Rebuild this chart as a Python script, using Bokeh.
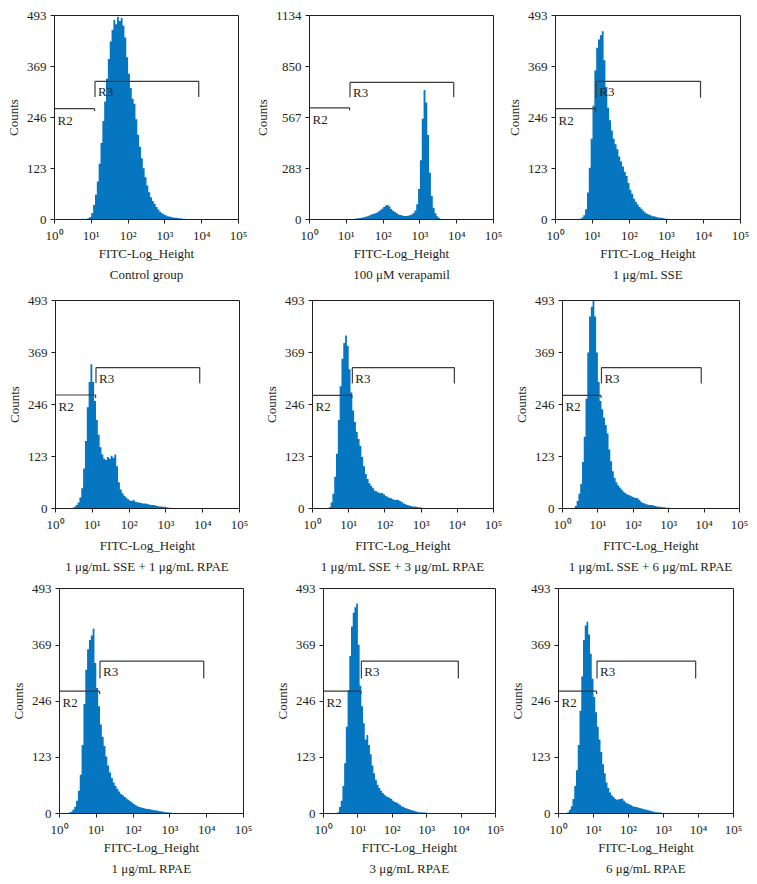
from bokeh.plotting import figure
from bokeh.layouts import column, row
from bokeh.models import FixedTicker, Title, Range1d, ColumnDataSource
from bokeh.embed import file_html
from bokeh.resources import INLINE
from bokeh.core.properties import value

# ---------------- data ----------------
BIN_W = 0.05  # width of one channel bin, in decades of FITC-Log_Height

X_TICKS = [1, 10, 100, 1000, 10000, 100000]
X_TICK_LABELS = ["10\u2070", "10\u00b9", "10\u00b2", "10\u00b3", "10\u2074", "10\u2075"]
Y_TICKS_STD = [0, 123, 246, 369, 493]
Y_TICKS_VER = [0, 283, 567, 850, 1134]

SUBTITLES = [
    "Control group", "100 \u03bcM verapamil", "1 \u03bcg/mL SSE",
    "1 \u03bcg/mL SSE + 1 \u03bcg/mL RPAE", "1 \u03bcg/mL SSE + 3 \u03bcg/mL RPAE",
    "1 \u03bcg/mL SSE + 6 \u03bcg/mL RPAE",
    "1 \u03bcg/mL RPAE", "3 \u03bcg/mL RPAE", "6 \u03bcg/mL RPAE",
]

# log10 of the left edge of the first bin of each histogram
HIST_START = [0.20, 1.10, 0.65, 0.45, 0.45, 0.30, 0.25, 0.40, 0.25]

control = [1, 0, 1, 1, 0, 1, 1, 1, 0, 1, 1, 2, 1, 2, 3, 6,
           16, 35, 60, 92, 135, 185, 238, 285, 340, 388, 430, 458, 482, 472, 490, 480, 487, 468,
           440, 392, 352, 318, 292, 280, 242, 205, 176, 148, 124, 102, 82, 66, 54, 45, 38, 30,
           24, 19, 15, 12, 10, 8, 7, 6, 5, 4, 4, 3, 3, 2, 2, 1, 1]
verapamil = [2, 3, 4, 5, 7, 8, 10, 12, 15, 18, 22, 26, 30, 34, 38, 45, 52, 60, 70, 78,
             80, 72, 58, 48, 42, 35, 28, 25, 22, 20, 20, 21, 24, 28, 35, 50, 85, 170, 330, 560,
             720, 650, 470, 260, 130, 65, 35, 18, 8, 3]
sse1 = [2, 5, 10, 25, 65, 125, 195, 275, 360, 415, 435, 445, 455, 385, 320, 270, 240, 215, 195, 182,
        170, 152, 140, 128, 115, 105, 88, 72, 62, 50, 43, 36, 30, 26, 21, 17, 14, 12, 10, 8,
        8, 6, 5, 4, 4, 3, 2, 2]
sse1_rpae1 = [2, 4, 8, 14, 26, 48, 95, 160, 240, 300, 342, 300, 255, 210, 175, 145, 128, 118, 115, 122,
              118, 125, 120, 128, 100, 62, 45, 36, 30, 26, 22, 19, 18, 20, 16, 15, 14, 13, 12, 12,
              11, 10, 9, 8, 8, 7, 6, 5, 5, 4, 4, 3, 2, 2, 1]
sse1_rpae3 = [3, 14, 35, 75, 130, 210, 290, 355, 392, 410, 385, 330, 275, 232, 205, 182, 165, 148, 122, 100,
              82, 70, 60, 54, 48, 42, 40, 38, 36, 37, 34, 30, 28, 25, 24, 22, 20, 21, 20, 18,
              15, 12, 10, 8, 7, 6, 5, 5, 4, 3, 3, 2, 1]
sse1_rpae6 = [2, 6, 18, 35, 58, 110, 170, 260, 370, 455, 478, 493, 455, 370, 300, 255, 235, 215, 198, 178,
              140, 112, 88, 72, 62, 55, 50, 45, 40, 37, 34, 32, 30, 28, 26, 25, 24, 20, 16, 13,
              12, 10, 9, 8, 8, 7, 6, 5, 4, 4, 3, 3, 2, 2, 2, 1, 1]
rpae1 = [2, 4, 8, 15, 28, 50, 85, 150, 240, 315, 360, 380, 390, 405, 330, 275, 235, 195, 168, 148,
         125, 105, 90, 78, 68, 60, 54, 48, 43, 40, 36, 33, 30, 27, 24, 21, 18, 16, 14, 13,
         12, 11, 10, 10, 9, 8, 7, 7, 6, 5, 5, 4, 3, 3, 2, 2, 1, 1]
rpae3 = [3, 14, 28, 60, 110, 190, 270, 345, 410, 440, 452, 460, 370, 280, 235, 198, 162, 172, 150, 130,
         105, 88, 74, 63, 56, 50, 45, 41, 38, 36, 34, 32, 28, 25, 24, 22, 19, 16, 14, 12,
         11, 10, 8, 7, 6, 5, 4, 3, 3, 2, 2, 2, 1, 1]
rpae6 = [3, 8, 16, 32, 60, 95, 150, 225, 300, 380, 412, 420, 392, 350, 295, 255, 222, 190, 162, 135,
         108, 88, 68, 56, 46, 40, 36, 32, 30, 31, 32, 33, 28, 24, 22, 20, 18, 16, 15, 14,
         13, 12, 11, 10, 9, 8, 7, 6, 5, 4, 3, 3, 2, 2, 1]

HISTS = [control, verapamil, sse1, sse1_rpae1, sse1_rpae3, sse1_rpae6, rpae1, rpae3, rpae6]
Y_MAX = [493, 1134, 493, 493, 493, 493, 493, 493, 493]

# gates (FITC values) and their drawing heights (counts)
R2_X = [1.0, 12.3]
R3_X = [12.6, 8300.0]
R2_Y = [268, 621, 268, 269, 268, 268, 268, 268, 268]
R2_TICK = [262, 606, 260, 262, 262, 262, 262, 262, 262]
R3_Y = [334, 762, 334, 334, 334, 334, 334, 334, 334]
R3_TICK = [296, 680, 294, 297, 296, 296, 296, 296, 296]

# ---------------- layout geometry (page pixels) ----------------
# fig_x0, fig_x1, frame_left, frame_right, frame_top, frame_bottom
GEOM = [
    (0, 251, 54, 238, 12, 219),
    (251, 503, 305, 493, 14, 220),
    (503, 752, 554, 740, 15, 221),
    (0, 255, 55, 239, 297, 508),
    (255, 505, 312, 493, 299, 510),
    (505, 752, 562, 739, 300, 512),
    (0, 262, 59, 243, 588, 813),
    (262, 506, 323, 495, 588, 816),
    (506, 752, 558, 733, 588, 815),
]
ROWS_Y = [(0, 287), (287, 580), (580, 882)]
AXIS_LABEL_STANDOFF = [0, 3, 0]   # per row
TITLE_STANDOFF = [3, 2, 3]        # per row

BLUE = "#0776c1"
INK = "#231f20"
GATE = "#3a3a3a"
FONT = "Liberation Serif"


def make_panel(i):
    fx0, fx1, fl, fr, ft, fb = GEOM[i]
    r = i // 3
    ry0, ry1 = ROWS_Y[r]
    ymax = Y_MAX[i]
    p = figure(width=fx1 - fx0, height=ry1 - ry0,
               x_axis_type="log", x_range=Range1d(1, 100000), y_range=Range1d(0, ymax),
               output_backend="svg", toolbar_location=None,
               min_border_left=fl - fx0, min_border_right=fx1 - fr,
               min_border_top=ft - ry0, min_border_bottom=ry1 - fb,
               background_fill_color="white", border_fill_color="white")
    p.grid.visible = False
    p.outline_line_color = INK
    p.outline_line_width = 1
    p.outline_line_alpha = 1

    counts = HISTS[i]
    start = HIST_START[i]
    edges = [10 ** (start + k * BIN_W) for k in range(len(counts) + 1)]
    src = ColumnDataSource(dict(x=edges, top=list(counts) + [0]))
    p.varea_step(x="x", y1=0, y2="top", step_mode="after", source=src,
                 fill_color=BLUE, fill_alpha=1)

    # gates
    gx0 = [R2_X[0], R2_X[1], R3_X[0], R3_X[0], R3_X[1]]
    gy0 = [R2_Y[i], R2_Y[i], R3_Y[i], R3_Y[i], R3_Y[i]]
    gx1 = [R2_X[1], R2_X[1], R3_X[1], R3_X[0], R3_X[1]]
    gy1 = [R2_Y[i], R2_TICK[i], R3_Y[i], R3_TICK[i], R3_TICK[i]]
    p.segment(x0=gx0, y0=gy0, x1=gx1, y1=gy1, line_color=GATE, line_width=1.2)
    p.text(x=[R2_X[0], R3_X[0]], y=[R2_Y[i], R3_Y[i]], text=["R2", "R3"],
           x_offset=[3, 3], y_offset=[4, 3], text_baseline="top", text_align="left",
           text_font=value(FONT), text_font_size="13px", text_color=INK)

    # axes
    xa = p.xaxis[0]
    xa.ticker = FixedTicker(ticks=X_TICKS, minor_ticks=[])
    xa.major_label_overrides = {t: l for t, l in zip(X_TICKS, X_TICK_LABELS)}
    xa.axis_label = "FITC-Log_Height"
    ya = p.yaxis[0]
    ya.ticker = FixedTicker(ticks=Y_TICKS_VER if ymax > 500 else Y_TICKS_STD, minor_ticks=[])
    ya.axis_label = "Counts"
    for ax in (xa, ya):
        ax.axis_line_color = INK
        ax.major_tick_line_color = INK
        ax.major_tick_in = 0
        ax.major_tick_out = 4
        ax.minor_tick_line_color = None
        ax.major_label_text_font = FONT
        ax.major_label_text_font_size = "13px"
        ax.major_label_text_color = INK
        ax.axis_label_text_font = FONT
        ax.axis_label_text_font_size = "13px"
        ax.axis_label_text_font_style = "normal"
        ax.axis_label_text_color = INK
    xa.major_label_standoff = 4
    xa.axis_label_standoff = AXIS_LABEL_STANDOFF[r]
    ya.major_label_standoff = 4
    ya.axis_label_standoff = 3
    ya.major_label_orientation = "horizontal"

    p.add_layout(Title(text=SUBTITLES[i], align="center", text_font=FONT,
                       text_font_size="13px", text_font_style="normal",
                       text_color=INK, standoff=TITLE_STANDOFF[r]), "below")
    return p


panels = [make_panel(i) for i in range(9)]
layout = column(row(*panels[0:3]), row(*panels[3:6]), row(*panels[6:9]))

open("out.html", "w").write(file_html(layout, INLINE))
